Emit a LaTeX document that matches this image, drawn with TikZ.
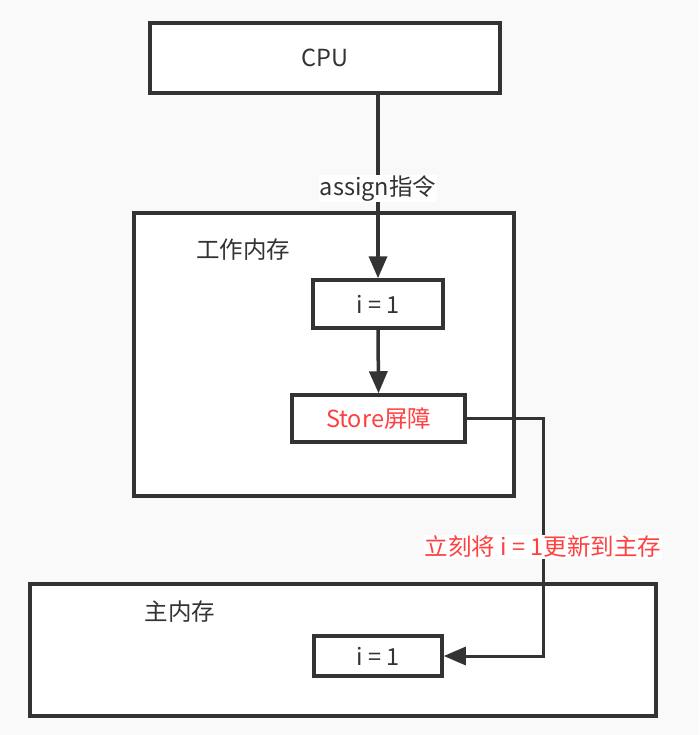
\documentclass[tikz,border=0pt]{standalone}
\usepackage{fontspec}
\setmainfont{Noto Sans CJK SC}
\usetikzlibrary{arrows.meta}
\definecolor{ink}{HTML}{333333}
\definecolor{alert}{HTML}{FF4040}
\definecolor{page}{HTML}{F9F9F9}
\begin{document}
\begin{tikzpicture}[x=1pt,y=-1pt,
        box/.style={draw=ink,line width=3.5pt,fill=white,inner sep=0pt,text=ink,font=\fontsize{23.5}{26}\selectfont},
        link/.style={draw=ink,line width=3.5pt,-{Triangle[length=22pt,width=18pt]}},
        tag/.style={fill=white,inner sep=1pt,font=\fontsize{23.5}{26}\selectfont}]
    \fill[page] (0,0) rectangle (699,735);
    \useasboundingbox (0,0) rectangle (699,735);

    \node[box,minimum width=350pt,minimum height=70pt] (cpu) at (325,58) {CPU};

    \node[box,minimum width=380pt,minimum height=283pt] (work) at (324,354.5) {};
    \node[text=ink,font=\fontsize{23.5}{26}\selectfont] (worklabel) at (243,250) {工作内存};
    \node[box,minimum width=130pt,minimum height=48pt] (ivar) at (378,304) {i = 1};
    \node[box,minimum width=173pt,minimum height=47pt,text=alert] (store) at (378.5,418.5) {Store屏障};

    \node[box,minimum width=626pt,minimum height=132pt] (main) at (343,650) {};
    \node[text=ink,font=\fontsize{23.5}{26}\selectfont] (mainlabel) at (180,612) {主内存};
    \node[box,minimum width=128pt,minimum height=40pt] (mvar) at (378,656) {i = 1};

    \draw[link] (cpu.south -| ivar.north) -- node[tag,text=ink,yshift=-2pt] (assign) {assign指令} (ivar.north);
    \draw[link] (ivar.south) -- (store.north);

    \coordinate (bend) at (543,418.5);
    \draw[link,line width=3pt] (store.east) -- (bend) |- node[tag,text=alert,pos=0.27] (flush) {立刻将 i = 1更新到主存} (mvar.east);
\end{tikzpicture}
\end{document}
